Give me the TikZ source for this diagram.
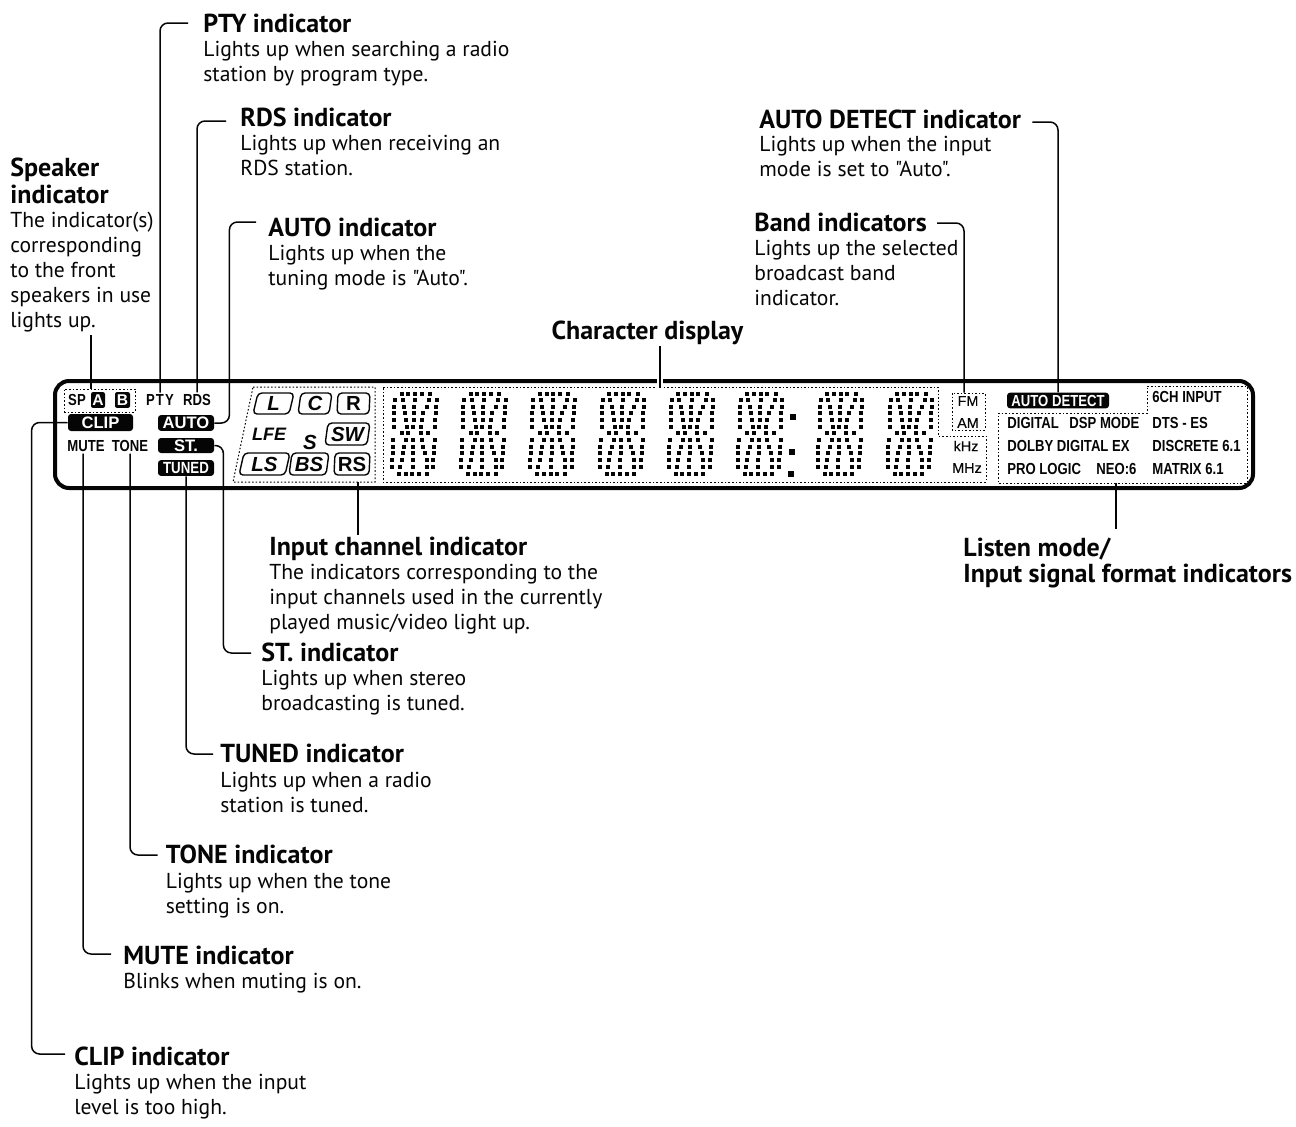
\documentclass[tikz,border=0pt]{standalone}
\usepackage{fontspec}
\setmainfont[Ligatures=TeXOff]{PT Sans}
\newfontfamily\lcdfont[FakeStretch=0.82]{Liberation Sans}
\newfontfamily\panelfont{Liberation Sans}
\newfontfamily\freqfont[FakeBold=0.25]{Liberation Sans}
\usetikzlibrary{positioning,calc}
\definecolor{inkblack}{HTML}{050505}

\begin{document}
\begin{tikzpicture}[
    x=0.5pt,y=-0.5pt,
    titel/.style  = {anchor=west,inner sep=0pt,text height=9.5pt,text depth=2.8pt,
                     font=\fontsize{13}{13.5}\selectfont\bfseries,text=inkblack},
    titelblok/.style = {anchor=west,align=left,inner sep=0pt,
                     font=\fontsize{13}{13.5}\selectfont\bfseries,text=inkblack},
    uitleg/.style = {anchor=north west,align=left,inner sep=0pt,
                     font=\fontsize{10.8}{12.5}\selectfont,text=inkblack},
    leader/.style = {inkblack,line width=0.75pt,rounded corners=4pt},
    lcdlabel/.style = {inner sep=0pt,outer ysep=1pt,font=\lcdfont\fontsize{8}{9}\selectfont\bfseries,text=inkblack},
    lamp/.style   = {fill=inkblack,rounded corners=1.5pt,inner sep=0pt,text=white,
                     font=\panelfont\fontsize{8.3}{9}\selectfont\bfseries,
                     minimum width=28pt,minimum height=7.9pt},
    freq/.style   = {inner sep=0pt,font=\freqfont\fontsize{7.2}{8}\selectfont,text=inkblack},
    kanaal/.style = {inkblack,line width=0.7pt,rounded corners=2pt},
    stip/.style   = {inkblack,line width=0.5pt,dash pattern=on 0.8pt off 1pt},
    vak/.style    = {inner sep=0pt,font=\panelfont\fontsize{10.2}{11}\selectfont\bfseries\itshape,text=inkblack},
  ]
  \useasboundingbox (0,0) rectangle (1296,1126);

  % -- display panel --
  \draw[inkblack,line width=2pt,rounded corners=7pt] (55,381) rectangle (1253,488);

  % -- dotted groups --
  \node[stip,draw,minimum width=35.5pt,minimum height=11.5pt,inner sep=0pt] (spkbox) at (99.5,400.5) {};
  \draw[stip] (253,387) -- (375,387) -- (375,482) -- (233,482) -- cycle;
  \draw[stip] (383,387) -- (938,387) -- (938,436) -- (986,436) -- (986,482) -- (383,482) -- cycle;
  \draw[stip] (952,393) rectangle (985,430);
  \draw[stip] (998,413) -- (1147,413) -- (1147,386) -- (1247,386) -- (1247,483) -- (998,483) -- cycle;
  \coordinate (chanpin) at (358,482);
  \coordinate (disppin) at (660,388);
  \coordinate (modepin) at (1116,483);
  \coordinate (spkpin)  at (91,389);

  % -- left hand lamps --
  \node[lcdlabel] (sp)  at (77,400) {SP};
  \node[lamp,minimum width=7pt,rounded corners=1pt,font=\panelfont\fontsize{7.8}{9}\selectfont\bfseries] (lampa) at (98,400) {A};
  \node[lamp,minimum width=7.5pt,rounded corners=1pt,font=\panelfont\fontsize{7.8}{9}\selectfont\bfseries] (lampb) at (122.5,400) {B};
  \node[lcdlabel] (ptyl)  at (160,400) {P\kern0.5pt T\kern0.5pt Y};
  \node[lcdlabel] (rdsl)  at (197,400) {RDS};
  \node[lamp,minimum width=32.5pt,minimum height=8.5pt] (clipl) at (100.5,422.5) {CLIP};
  \node[lamp] (autol)  at (186,423) {AUTO};
  \node[lamp,minimum height=7.5pt] (stl) at (186,445.5) {ST.};
  \node[lamp,font=\lcdfont\fontsize{8.1}{9}\selectfont\bfseries] (tunedl) at (186,468) {TUNED};
  \node[lcdlabel] (mutel) at (86,446) {MUTE};
  \node[lcdlabel] (tonel) at (130,446) {TONE};

  % -- input channels --
  \foreach \xa/\xb/\ya/\yb/\sl/\tekst in {253/289/393/414/5/L,298/329/393/414/3/C,337/369/393/414/1/{\upshape R},
      325/367/423/445/3/SW,239/285/453/475/5/LS,289/326/453/475/3/BS,334/369/453/475/1/{\upshape RS}}{
    \draw[kanaal] (\xa,\yb) -- (\xa+\sl,\ya) -- (\xb+\sl,\ya) -- (\xb,\yb) -- cycle;
    \node[vak] at ({(\xa+\xb+\sl)/2},{(\ya+\yb)/2}) {\tekst};
  }
  \node[vak,font=\panelfont\fontsize{9}{10}\selectfont\itshape\bfseries] (lfe) at (269,434) {LFE};
  \node[vak] (surr) at (310,442) {S};

  % -- character dots --
  \foreach \off in {0,69,138.3,207.6,276.8,345.6,425.6,495.6}
    \foreach \ry/\rx in {72/{65,85,105,125,150},90/{45,68,105,147,170},110/{43,72,103,140,168},
        130/{42,75,102,130,167},150/{42,78,102,125,165},172/{42,82,100,122,165},190/{65,85,122,145},
        210/{40,78,100,125,165},230/{38,72,100,130,163},250/{38,68,100,135,162},270/{36,65,98,140,160},
        290/{36,60,98,140,160},312/{57,77,97,117,140}}
      \foreach \cx in \rx
        \fill[inkblack] ({380+\off+\cx/3-2},{370+\ry/3-2}) rectangle +(4,4);
  \foreach \cx/\ry in {792.7/416.7,791.7/451.7,790.7/474}
    \fill[inkblack] (\cx-2.8,\ry-2.8) rectangle +(5.6,5.6);

  % -- band --
  \node[freq] (fml)  at (968,401) {FM};
  \node[freq] (aml)  at (968,423) {AM};
  \node[freq] (khzl) at (966,446) {kHz};
  \node[freq] (mhzl) at (967,468) {MHz};

  % -- listen mode --
  \node[lamp,minimum width=51pt,minimum height=7.8pt,font=\lcdfont\fontsize{8}{9}\selectfont\bfseries] (detectl) at (1058,400.5) {AUTO DETECT};
  \foreach \xx/\yy/\tekst in {1152/397/6CH INPUT,1007/423/DIGITAL,1069/423/DSP MODE,1152/423/DTS - ES,
      1007/446/DOLBY DIGITAL EX,1152/446/DISCRETE 6.1,1007/469/PRO LOGIC,1096/469/NEO:6,1152/469/MATRIX 6.1}
    \node[lcdlabel,anchor=west] at (\xx,\yy) {\tekst};

  % -- captions above --
  \node[titel] (pty) at (203,26) {PTY indicator};
  \node[uitleg] at (203,41) {Lights up when searching a radio\\station by program type.};
  \node[titel] (rds) at (240,120) {RDS indicator};
  \node[uitleg] at (240,135) {Lights up when receiving an\\RDS station.};
  \node[titel] (auto) at (268,230) {AUTO indicator};
  \node[uitleg] at (268,245) {Lights up when the\\tuning mode is "Auto".};
  \node[titelblok] (spk) at (10,180.5) {Speaker\\indicator};
  \node[uitleg] (spktxt) at (10,212) {The indicator(s)\\corresponding\\to the front\\speakers in use\\lights up.};
  \node[titel] (detect) at (759,122) {AUTO DETECT indicator};
  \node[uitleg] at (759,136) {Lights up when the input\\mode is set to "Auto".};
  \node[titel] (band) at (754,225) {Band indicators};
  \node[uitleg] at (754,240) {Lights up the selected\\broadcast band\\indicator.};
  \node[titel,anchor=center] (disp) at (647.5,332.5) {Character display};

  % -- captions below --
  \node[titel] (chan) at (269,549) {Input channel indicator};
  \node[uitleg] at (269,564) {The indicators corresponding to the\\input channels used in the currently\\played music/video light up.};
  \node[titelblok,font=\fontsize{13}{12.8}\selectfont\bfseries] (mode) at (963,563) {Listen mode/\\Input signal format indicators};
  \node[titel] (st) at (261,655) {ST. indicator};
  \node[uitleg] at (261,670) {Lights up when stereo\\broadcasting is tuned.};
  \node[titel] (tuned) at (220,756) {TUNED indicator};
  \node[uitleg] at (220,772) {Lights up when a radio\\station is tuned.};
  \node[titel] (tone) at (165.5,857) {TONE indicator};
  \node[uitleg] at (165.5,873) {Lights up when the tone\\setting is on.};
  \node[titel] (mute) at (123,958) {MUTE indicator};
  \node[uitleg] at (123,973) {Blinks when muting is on.};
  \node[titel] (clip) at (74,1059) {CLIP indicator};
  \node[uitleg] at (74,1074) {Lights up when the input\\level is too high.};

  % -- leaders --
  \draw[leader] (spkpin) -- ++(0,-54);
  \draw[leader] ([shift={(-15,-3)}]pty.west) -| (ptyl.north);
  \draw[leader] ([shift={(-14,1)}]rds.west) -| (rdsl.north);
  \draw[leader] ([shift={(-12,-8)}]auto.west) -| ([shift={(15,0)}]autol.east) -- (autol.east);
  \draw[leader] ([shift={(11,0)}]detect.east) -| (detectl.north);
  \draw[leader] ([shift={(10,-2)}]band.east) -| ([shift={(-4,-3)}]fml.north);
  \draw[white,line width=3pt] (disppin) ++(0,-16) -- (disppin);
  \draw[leader] (disppin) -- ++(0,-42);
  \draw[leader] (chanpin) -- ++(0,53);
  \draw[leader] (modepin) -- ++(0,46);
  \draw[leader] (stl.east) -- ++(9,0) |- ([shift={(-10,-2)}]st.west);
  \draw[leader] (tunedl.south) |- ([shift={(-7,-2)}]tuned.west);
  \draw[leader] (tonel.south) |- ([shift={(-8,-2)}]tone.west);
  \draw[leader] ([shift={(-3,0)}]mutel.south) |- ([shift={(-12,-4)}]mute.west);
  \draw[leader] (clipl.west) -- ++(-36,0) |- ([shift={(-9,-5)}]clip.west);

\end{tikzpicture}
\end{document}
